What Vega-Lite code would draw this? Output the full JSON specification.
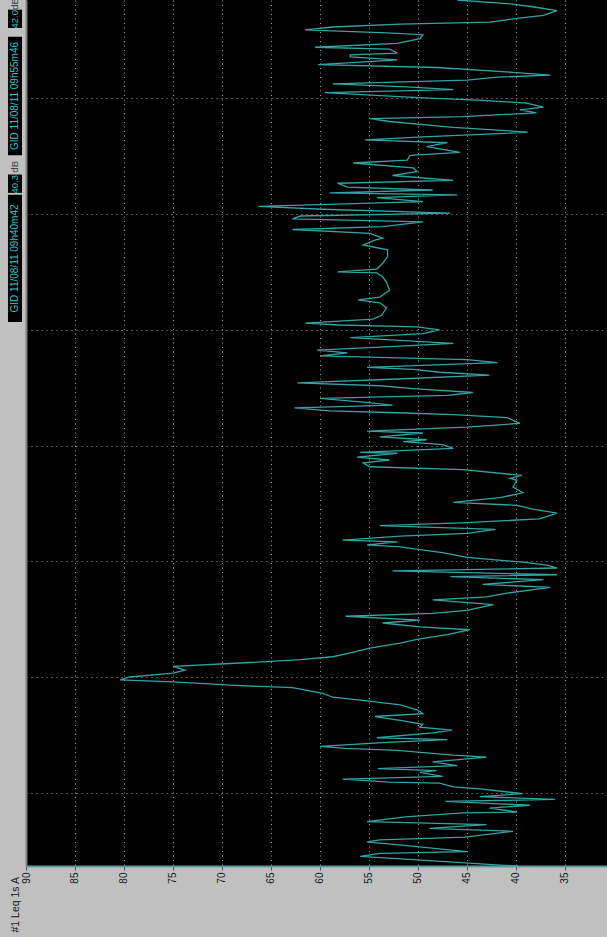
{
  "$schema": "https://vega.github.io/schema/vega-lite/v6.json",
  "width": 581,
  "height": 866,
  "autosize": {"type": "none"},
  "padding": {"left": 26, "top": 0, "right": 0, "bottom": 71},
  "background": "#c0c0c0",
  "config": {
    "view": {"fill": "#000000", "stroke": null},
    "font": "Liberation Sans"
  },
  "data": {"values": [
    {"t":0,"db":39.8},{"t":1,"db":41.6},{"t":4,"db":46.4},{"t":10,"db":55.9},{"t":13,"db":53.9},{"t":15,"db":45.0},{"t":20,"db":50.1},{"t":25,"db":55.2},{"t":27,"db":53.9},{"t":30,"db":45.2},
    {"t":36,"db":40.3},{"t":39,"db":48.8},{"t":43,"db":43.0},{"t":46,"db":55.2},{"t":51,"db":51.3},{"t":55,"db":45.4},{"t":56,"db":39.9},{"t":60,"db":42.7},{"t":63,"db":38.6},{"t":67,"db":47.2},
    {"t":69,"db":36.0},{"t":72,"db":43.7},{"t":75,"db":39.3},{"t":80,"db":43.7},{"t":82,"db":46.4},{"t":86,"db":47.8},{"t":87,"db":52.9},{"t":90,"db":57.7},{"t":93,"db":47.5},{"t":97,"db":49.8},
    {"t":99,"db":48.1},{"t":101,"db":54.1},{"t":104,"db":46.0},{"t":108,"db":48.5},{"t":113,"db":43.0},{"t":115,"db":46.4},{"t":120,"db":52.1},{"t":122,"db":57.4},{"t":124,"db":60.0},{"t":128,"db":53.6},
    {"t":131,"db":47.0},{"t":133,"db":54.2},{"t":138,"db":48.5},{"t":141,"db":46.5},{"t":144,"db":49.8},{"t":147,"db":49.5},{"t":151,"db":51.8},{"t":155,"db":54.4},{"t":158,"db":49.5},{"t":162,"db":50.1},
    {"t":167,"db":51.8},{"t":172,"db":55.9},{"t":175,"db":58.7},{"t":179,"db":59.7},{"t":185,"db":62.8},{"t":187,"db":68.2},{"t":191,"db":75.0},{"t":193,"db":80.4},{"t":196,"db":79.4},{"t":200,"db":75.0},
    {"t":203,"db":73.8},{"t":207,"db":75.0},{"t":211,"db":67.1},{"t":214,"db":62.0},{"t":217,"db":58.7},{"t":221,"db":56.9},{"t":226,"db":54.9},{"t":231,"db":51.8},{"t":235,"db":50.1},{"t":240,"db":47.0},
    {"t":245,"db":44.7},{"t":248,"db":49.8},{"t":252,"db":53.6},{"t":255,"db":49.8},{"t":259,"db":57.4},{"t":262,"db":48.5},{"t":265,"db":45.0},{"t":271,"db":42.3},{"t":276,"db":48.5},{"t":279,"db":43.0},
    {"t":283,"db":40.9},{"t":289,"db":36.5},{"t":292,"db":43.4},{"t":297,"db":37.2},{"t":300,"db":46.7},{"t":302,"db":35.8},{"t":306,"db":52.6},{"t":309,"db":35.8},{"t":312,"db":36.8},{"t":315,"db":39.3},
    {"t":320,"db":45.0},{"t":325,"db":47.5},{"t":328,"db":49.8},{"t":331,"db":51.8},{"t":333,"db":55.2},{"t":336,"db":52.1},{"t":338,"db":57.7},{"t":342,"db":51.8},{"t":345,"db":45.0},{"t":349,"db":42.1},
    {"t":353,"db":53.9},{"t":356,"db":45.0},{"t":360,"db":37.6},{"t":366,"db":35.8},{"t":370,"db":38.3},{"t":374,"db":39.9},{"t":377,"db":46.4},{"t":382,"db":41.6},{"t":387,"db":39.3},{"t":393,"db":40.3},
    {"t":400,"db":39.9},{"t":402,"db":40.6},{"t":405,"db":39.4},{"t":411,"db":45.4},{"t":414,"db":54.9},{"t":418,"db":55.6},{"t":421,"db":52.9},{"t":424,"db":56.2},{"t":428,"db":52.1},{"t":429,"db":55.9},
    {"t":433,"db":46.4},{"t":437,"db":47.5},{"t":440,"db":51.5},{"t":442,"db":49.1},{"t":445,"db":53.9},{"t":449,"db":49.5},{"t":451,"db":55.2},{"t":455,"db":45.0},{"t":459,"db":39.6},{"t":465,"db":40.9},
    {"t":468,"db":46.4},{"t":470,"db":52.1},{"t":472,"db":59.0},{"t":475,"db":62.6},{"t":478,"db":52.6},{"t":481,"db":55.6},{"t":485,"db":60.0},{"t":488,"db":47.0},{"t":491,"db":44.4},{"t":495,"db":50.5},
    {"t":498,"db":53.9},{"t":501,"db":62.3},{"t":505,"db":52.1},{"t":509,"db":42.7},{"t":512,"db":47.8},{"t":515,"db":50.5},{"t":517,"db":55.2},{"t":522,"db":41.9},{"t":525,"db":45.0},{"t":529,"db":60.0},
    {"t":532,"db":57.2},{"t":535,"db":60.3},{"t":538,"db":53.9},{"t":542,"db":46.4},{"t":548,"db":56.9},{"t":552,"db":49.5},{"t":556,"db":47.8},{"t":559,"db":50.1},{"t":561,"db":58.0},{"t":563,"db":61.5},
    {"t":567,"db":54.6},{"t":571,"db":53.7},{"t":579,"db":53.2},{"t":584,"db":53.9},{"t":587,"db":56.1},{"t":590,"db":53.9},{"t":597,"db":52.9},{"t":605,"db":53.2},{"t":611,"db":53.6},{"t":615,"db":54.2},
    {"t":616,"db":58.2},{"t":619,"db":54.2},{"t":625,"db":53.6},{"t":632,"db":53.1},{"t":639,"db":53.1},{"t":644,"db":55.6},{"t":649,"db":54.4},{"t":651,"db":53.6},{"t":656,"db":54.9},{"t":660,"db":62.8},
    {"t":663,"db":53.6},{"t":668,"db":49.5},{"t":671,"db":62.8},{"t":674,"db":62.0},{"t":677,"db":46.7},{"t":681,"db":59.7},{"t":684,"db":66.3},{"t":689,"db":49.5},{"t":693,"db":54.2},{"t":696,"db":46.0},
    {"t":698,"db":59.0},{"t":701,"db":48.5},{"t":704,"db":57.2},{"t":708,"db":58.2},{"t":711,"db":46.4},{"t":716,"db":52.6},{"t":720,"db":50.1},{"t":724,"db":50.5},{"t":729,"db":56.6},{"t":732,"db":51.1},
    {"t":737,"db":50.8},{"t":740,"db":45.7},{"t":746,"db":49.1},{"t":750,"db":47.0},{"t":753,"db":55.4},{"t":756,"db":49.5},{"t":760,"db":40.6},{"t":761,"db":38.8},{"t":766,"db":46.4},{"t":772,"db":52.9},
    {"t":775,"db":54.9},{"t":777,"db":45.4},{"t":781,"db":37.9},{"t":784,"db":39.6},{"t":787,"db":37.2},{"t":791,"db":38.9},{"t":794,"db":43.4},{"t":797,"db":50.5},{"t":802,"db":59.5},{"t":805,"db":46.4},
    {"t":808,"db":51.1},{"t":811,"db":58.7},{"t":815,"db":45.0},{"t":818,"db":41.9},{"t":820,"db":36.5},{"t":823,"db":40.3},{"t":828,"db":48.1},{"t":831,"db":60.2},{"t":836,"db":52.1},{"t":839,"db":56.9},
    {"t":841,"db":56.9},{"t":843,"db":52.1},{"t":847,"db":52.9},{"t":849,"db":60.5},{"t":853,"db":52.1},{"t":858,"db":49.8},{"t":862,"db":49.5},{"t":864,"db":53.2},{"t":867,"db":61.5},{"t":870,"db":58.7},
    {"t":873,"db":51.8},{"t":875,"db":42.7},{"t":879,"db":39.9},{"t":882,"db":37.2},{"t":887,"db":35.8},{"t":891,"db":38.3},{"t":894,"db":40.6},{"t":898,"db":46.0}
  ]},
  "layer": [
    {
      "mark": {"type": "line", "interpolate": "linear", "color": "#32a4a4", "strokeWidth": 1.3, "clip": true},
      "encoding": {
        "x": {
          "field": "db", "type": "quantitative",
          "scale": {"domain": [30.71, 90], "reverse": true, "nice": false, "zero": false},
          "axis": {
            "values": [90, 85, 80, 75, 70, 65, 60, 55, 50, 45, 40, 35],
            "title": null,
            "labelAngle": 270,
            "labelFontSize": 10,
            "labelColor": "#1a1a1a",
            "labelPadding": 2,
            "tickSize": 4,
            "tickColor": "#505050",
            "domainColor": "#5b9e9e",
            "domainWidth": 2,
            "grid": true,
            "gridColor": "#bdbdbd",
            "gridDash": [1, 3.5],
            "gridOpacity": 0.85
          }
        },
        "y": {
          "field": "t", "type": "quantitative",
          "scale": {"domain": [0, 898], "nice": false, "zero": false},
          "axis": {
            "values": [76, 196, 316, 436, 556, 676, 796],
            "labels": false,
            "ticks": false,
            "domainColor": "#808080",
            "domainWidth": 2,
            "grid": true,
            "gridColor": "#bdbdbd",
            "gridDash": [1, 4],
            "gridOpacity": 0.85,
            "title": "#1 Leq 1s A",
            "titleAngle": 270,
            "titleAlign": "left",
            "titleBaseline": "middle",
            "titleFontSize": 10.5,
            "titleFontWeight": "normal",
            "titleColor": "#1a1a1a",
            "titleX": -11,
            "titleY": 932
          }
        },
        "order": {"field": "t", "type": "quantitative"}
      }
    },
    {
      "data": {"values": [{}]},
      "mark": {"type": "rect", "color": "#000000"},
      "encoding": {"x": {"datum": 91.84}, "x2": {"datum": 90.41}, "y": {"datum": 869}, "y2": {"datum": 888}}
    },
    {
      "data": {"values": [{}]},
      "mark": {"type": "rect", "color": "#000000"},
      "encoding": {"x": {"datum": 91.84}, "x2": {"datum": 90.41}, "y": {"datum": 737}, "y2": {"datum": 860}}
    },
    {
      "data": {"values": [{}]},
      "mark": {"type": "rect", "color": "#000000"},
      "encoding": {"x": {"datum": 91.84}, "x2": {"datum": 90.41}, "y": {"datum": 698}, "y2": {"datum": 717}}
    },
    {
      "data": {"values": [{}]},
      "mark": {"type": "rect", "color": "#000000"},
      "encoding": {"x": {"datum": 91.84}, "x2": {"datum": 90.41}, "y": {"datum": 564}, "y2": {"datum": 696}}
    },
    {
      "data": {"values": [{}]},
      "mark": {"type": "text", "angle": 270, "align": "center", "baseline": "middle", "fontSize": 9.5, "color": "#33c6c6"},
      "encoding": {"x": {"datum": 91.12}, "y": {"datum": 878}, "text": {"value": "42.0"}}
    },
    {
      "data": {"values": [{}]},
      "mark": {"type": "text", "angle": 270, "align": "center", "baseline": "middle", "fontSize": 10, "color": "#33c6c6"},
      "encoding": {"x": {"datum": 91.12}, "y": {"datum": 798.5}, "text": {"value": "GID 11/08/11 09h55m46"}}
    },
    {
      "data": {"values": [{}]},
      "mark": {"type": "text", "angle": 270, "align": "center", "baseline": "middle", "fontSize": 9.5, "color": "#404040"},
      "encoding": {"x": {"datum": 91.12}, "y": {"datum": 894}, "text": {"value": "dB"}}
    },
    {
      "data": {"values": [{}]},
      "mark": {"type": "text", "angle": 270, "align": "center", "baseline": "middle", "fontSize": 9.5, "color": "#33c6c6"},
      "encoding": {"x": {"datum": 91.12}, "y": {"datum": 707}, "text": {"value": "40.3"}}
    },
    {
      "data": {"values": [{}]},
      "mark": {"type": "text", "angle": 270, "align": "center", "baseline": "middle", "fontSize": 9.5, "color": "#404040"},
      "encoding": {"x": {"datum": 91.12}, "y": {"datum": 725}, "text": {"value": "dB"}}
    },
    {
      "data": {"values": [{}]},
      "mark": {"type": "text", "angle": 270, "align": "center", "baseline": "middle", "fontSize": 10, "color": "#33c6c6"},
      "encoding": {"x": {"datum": 91.12}, "y": {"datum": 630}, "text": {"value": "GID 11/08/11 09h40m42"}}
    }
  ]
}
